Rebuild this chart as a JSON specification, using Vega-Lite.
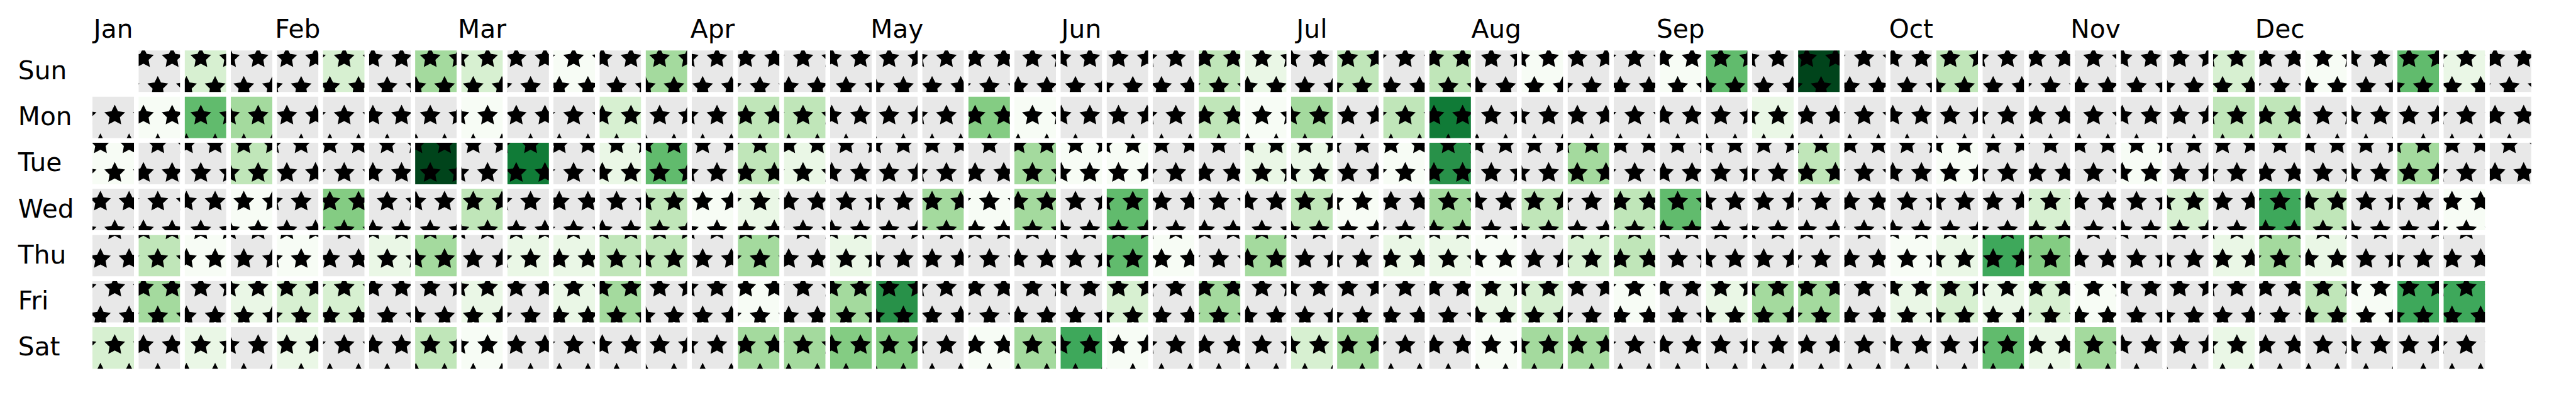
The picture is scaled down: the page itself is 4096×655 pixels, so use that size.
{
  "$schema": "https://vega.github.io/schema/vega-lite/v6.json",
  "width": 3885,
  "height": 513,
  "autosize": {"type": "none"},
  "padding": {"left": 143.4, "top": 76.7, "right": 0, "bottom": 0},
  "background": "white",
  "config": {"view": {"stroke": null}, "axis": {"grid": false}, "font": "DejaVu Sans"},
  "datasets": {
    "weeks": [
      {"w":0,"Mon":null,"Tue":0,"Wed":null,"Thu":null,"Fri":null,"Sat":2},
      {"w":1,"Sun":null,"Mon":0,"Tue":null,"Wed":null,"Thu":3,"Fri":4,"Sat":null},
      {"w":2,"Sun":2,"Mon":6,"Tue":null,"Wed":null,"Thu":0,"Fri":null,"Sat":1},
      {"w":3,"Sun":null,"Mon":4,"Tue":3,"Wed":0,"Thu":null,"Fri":1,"Sat":null},
      {"w":4,"Sun":null,"Mon":null,"Tue":null,"Wed":null,"Thu":0,"Fri":2,"Sat":1},
      {"w":5,"Sun":2,"Mon":null,"Tue":null,"Wed":5,"Thu":null,"Fri":2,"Sat":null},
      {"w":6,"Sun":null,"Mon":null,"Tue":null,"Wed":null,"Thu":1,"Fri":null,"Sat":null},
      {"w":7,"Sun":4,"Mon":null,"Tue":11,"Wed":null,"Thu":4,"Fri":null,"Sat":3},
      {"w":8,"Sun":2,"Mon":0,"Tue":null,"Wed":3,"Thu":null,"Fri":1,"Sat":0},
      {"w":9,"Sun":null,"Mon":null,"Tue":9,"Wed":null,"Thu":1,"Fri":null,"Sat":null},
      {"w":10,"Sun":0,"Mon":null,"Tue":null,"Wed":null,"Thu":1,"Fri":1,"Sat":null},
      {"w":11,"Sun":null,"Mon":2,"Tue":1,"Wed":null,"Thu":3,"Fri":4,"Sat":null},
      {"w":12,"Sun":4,"Mon":null,"Tue":6,"Wed":3,"Thu":3,"Fri":null,"Sat":null},
      {"w":13,"Sun":null,"Mon":null,"Tue":null,"Wed":0,"Thu":null,"Fri":null,"Sat":null},
      {"w":14,"Sun":null,"Mon":3,"Tue":3,"Wed":1,"Thu":4,"Fri":0,"Sat":4},
      {"w":15,"Sun":null,"Mon":3,"Tue":1,"Wed":null,"Thu":null,"Fri":null,"Sat":4},
      {"w":16,"Sun":null,"Mon":null,"Tue":null,"Wed":null,"Thu":1,"Fri":4,"Sat":5},
      {"w":17,"Sun":null,"Mon":null,"Tue":null,"Wed":null,"Thu":null,"Fri":8,"Sat":5},
      {"w":18,"Sun":null,"Mon":null,"Tue":null,"Wed":4,"Thu":null,"Fri":null,"Sat":null},
      {"w":19,"Sun":null,"Mon":5,"Tue":null,"Wed":0,"Thu":null,"Fri":null,"Sat":0},
      {"w":20,"Sun":null,"Mon":0,"Tue":4,"Wed":4,"Thu":null,"Fri":null,"Sat":4},
      {"w":21,"Sun":null,"Mon":null,"Tue":0,"Wed":null,"Thu":null,"Fri":null,"Sat":7},
      {"w":22,"Sun":null,"Mon":null,"Tue":0,"Wed":6,"Thu":6,"Fri":2,"Sat":0},
      {"w":23,"Sun":null,"Mon":null,"Tue":null,"Wed":null,"Thu":0,"Fri":null,"Sat":null},
      {"w":24,"Sun":3,"Mon":3,"Tue":null,"Wed":null,"Thu":null,"Fri":4,"Sat":null},
      {"w":25,"Sun":1,"Mon":0,"Tue":1,"Wed":null,"Thu":4,"Fri":null,"Sat":null},
      {"w":26,"Sun":null,"Mon":4,"Tue":1,"Wed":3,"Thu":null,"Fri":null,"Sat":2},
      {"w":27,"Sun":3,"Mon":null,"Tue":null,"Wed":0,"Thu":null,"Fri":null,"Sat":4},
      {"w":28,"Sun":null,"Mon":3,"Tue":0,"Wed":null,"Thu":1,"Fri":null,"Sat":null},
      {"w":29,"Sun":3,"Mon":9,"Tue":8,"Wed":4,"Thu":1,"Fri":null,"Sat":null},
      {"w":30,"Sun":null,"Mon":null,"Tue":null,"Wed":null,"Thu":0,"Fri":1,"Sat":0},
      {"w":31,"Sun":0,"Mon":null,"Tue":null,"Wed":3,"Thu":null,"Fri":2,"Sat":4},
      {"w":32,"Sun":null,"Mon":null,"Tue":4,"Wed":null,"Thu":2,"Fri":null,"Sat":4},
      {"w":33,"Sun":null,"Mon":null,"Tue":null,"Wed":3,"Thu":3,"Fri":0,"Sat":null},
      {"w":34,"Sun":0,"Mon":null,"Tue":null,"Wed":6,"Thu":null,"Fri":null,"Sat":null},
      {"w":35,"Sun":6,"Mon":null,"Tue":null,"Wed":null,"Thu":null,"Fri":1,"Sat":null},
      {"w":36,"Sun":null,"Mon":1,"Tue":null,"Wed":null,"Thu":null,"Fri":4,"Sat":null},
      {"w":37,"Sun":11,"Mon":null,"Tue":3,"Wed":null,"Thu":null,"Fri":4,"Sat":null},
      {"w":38,"Sun":null,"Mon":null,"Tue":null,"Wed":null,"Thu":null,"Fri":null,"Sat":null},
      {"w":39,"Sun":null,"Mon":null,"Tue":null,"Wed":null,"Thu":0,"Fri":1,"Sat":null},
      {"w":40,"Sun":3,"Mon":null,"Tue":0,"Wed":null,"Thu":1,"Fri":2,"Sat":null},
      {"w":41,"Sun":null,"Mon":null,"Tue":null,"Wed":null,"Thu":7,"Fri":1,"Sat":6},
      {"w":42,"Sun":null,"Mon":null,"Tue":null,"Wed":2,"Thu":5,"Fri":2,"Sat":1},
      {"w":43,"Sun":null,"Mon":null,"Tue":null,"Wed":null,"Thu":null,"Fri":0,"Sat":4},
      {"w":44,"Sun":null,"Mon":null,"Tue":0,"Wed":null,"Thu":null,"Fri":null,"Sat":null},
      {"w":45,"Sun":null,"Mon":null,"Tue":null,"Wed":2,"Thu":null,"Fri":null,"Sat":null},
      {"w":46,"Sun":2,"Mon":3,"Tue":null,"Wed":null,"Thu":1,"Fri":null,"Sat":1},
      {"w":47,"Sun":null,"Mon":3,"Tue":null,"Wed":7,"Thu":4,"Fri":null,"Sat":null},
      {"w":48,"Sun":0,"Mon":null,"Tue":null,"Wed":3,"Thu":1,"Fri":3,"Sat":null},
      {"w":49,"Sun":null,"Mon":null,"Tue":null,"Wed":null,"Thu":null,"Fri":0,"Sat":null},
      {"w":50,"Sun":6,"Mon":null,"Tue":4,"Wed":null,"Thu":null,"Fri":7,"Sat":null},
      {"w":51,"Sun":1,"Mon":null,"Tue":null,"Wed":0,"Thu":null,"Fri":7,"Sat":null},
      {"w":52,"Sun":null,"Mon":null,"Tue":null}
    ],
    "stars": [
      {"j":[2,4,6,8,10,12],"sx":[3,4,5,6,7,8,9,10,11,12,13,14,15,16,17,18,19,20,21,22,23,24,25,26,27,28,29,30,31,32,33,34,35,36,37,38,39,40,41,42,43,44,45,46,47,48,49,50,51,52,53,54,55,56,57,58,59,60,61,62,63,64,65,66,67,68,69,70,71,72,73,74,75,76,77,78,79,80,81,82,83,84,85,86,87,88]},
      {"j":[3,5,7,9,11,13],"sx":[3.5,4.5,5.5,6.5,7.5,8.5,9.5,10.5,11.5,12.5,13.5,14.5,15.5,16.5,17.5,18.5,19.5,20.5,21.5,22.5,23.5,24.5,25.5,26.5,27.5,28.5,29.5,30.5,31.5,32.5,33.5,34.5,35.5,36.5,37.5,38.5,39.5,40.5,41.5,42.5,43.5,44.5,45.5,46.5,47.5,48.5,49.5,50.5,51.5,52.5,53.5,54.5,55.5,56.5,57.5,58.5,59.5,60.5,61.5,62.5,63.5,64.5,65.5,66.5,67.5,68.5,69.5,70.5,71.5,72.5,73.5,74.5,75.5,76.5,77.5,78.5,79.5,80.5,81.5,82.5,83.5,84.5,85.5,86.5,87.5,88.5]}
    ]
  },
  "resolve": {"scale": {"x": "independent", "y": "independent", "color": "independent", "fill": "independent"}, "axis": {"x": "independent", "y": "independent"}},
  "layer": [
    {
      "data": {"name": "weeks"},
      "transform": [
        {"fold": ["Sun","Mon","Tue","Wed","Thu","Fri","Sat"], "as": ["day","v"]},
        {"filter": "isDefined(datum.v)"}
      ],
      "mark": {"type": "rect", "color": "#e8e8e8"},
      "encoding": {
        "x": {"field": "w", "type": "ordinal",
          "scale": {"domain": [0,1,2,3,4,5,6,7,8,9,10,11,12,13,14,15,16,17,18,19,20,21,22,23,24,25,26,27,28,29,30,31,32,33,34,35,36,37,38,39,40,41,42,43,44,45,46,47,48,49,50,51,52], "paddingInner": 0, "paddingOuter": 0},
          "axis": {"orient": "top", "title": null, "domain": false, "ticks": false, "tickSize": 0, "labelPadding": 17.4, "labelBaseline": "alphabetic", "labelAngle": 0, "labelAlign": "center",
            "values": [0,4,8,13,17,21,26,30,34,39,43,47],
            "labelExpr": "['Jan','Feb','Mar','Apr','May','Jun','Jul','Aug','Sep','Oct','Nov','Dec'][indexof([0,4,8,13,17,21,26,30,34,39,43,47], datum.value)]",
            "labelFont": "DejaVu Sans", "labelFontSize": 40.7, "labelColor": "black", "labelOverlap": false, "labelBound": false, "labelLimit": 0, "labelFlush": false}
        },
        "y": {"field": "day", "type": "ordinal",
          "scale": {"domain": ["Sun","Mon","Tue","Wed","Thu","Fri","Sat"], "paddingInner": 0, "paddingOuter": 0},
          "axis": {"orient": "left", "title": null, "domain": false, "ticks": false, "tickSize": 0, "labelPadding": 115.1, "labelAlign": "left", "labelBaseline": "alphabetic", "labelOffset": 12.4,
            "labelFont": "DejaVu Sans", "labelFontSize": 40.7, "labelColor": "black", "labelOverlap": false, "labelBound": false, "labelLimit": 0}
        }
      }
    },
    {
      "data": {"name": "weeks"},
      "transform": [
        {"fold": ["Sun","Mon","Tue","Wed","Thu","Fri","Sat"], "as": ["day","v"]},
        {"filter": "isValid(datum.v)"}
      ],
      "mark": {"type": "rect"},
      "encoding": {
        "x": {"field": "w", "type": "ordinal",
          "scale": {"domain": [0,1,2,3,4,5,6,7,8,9,10,11,12,13,14,15,16,17,18,19,20,21,22,23,24,25,26,27,28,29,30,31,32,33,34,35,36,37,38,39,40,41,42,43,44,45,46,47,48,49,50,51,52], "paddingInner": 0, "paddingOuter": 0},
          "axis": null},
        "y": {"field": "day", "type": "ordinal",
          "scale": {"domain": ["Sun","Mon","Tue","Wed","Thu","Fri","Sat"], "paddingInner": 0, "paddingOuter": 0},
          "axis": null},
        "color": {"field": "v", "type": "quantitative", "legend": null,
          "scale": {"domain": [0,1.375,2.75,4.125,5.5,6.875,8.25,9.625,11],
            "range": ["#f7fcf5","#e5f5e0","#c7e9c0","#a1d99b","#74c476","#41ab5d","#238b45","#006d2c","#00441b"],
            "interpolate": "rgb"}}
      }
    },
    {
      "data": {"name": "stars"},
      "transform": [
        {"flatten": ["j"]},
        {"flatten": ["sx"]}
      ],
      "mark": {"type": "point", "shape": "M0,-1L0.2939,-0.4045L0.9511,-0.309L0.4755,0.1545L0.5878,0.809L0,0.5L-0.5878,0.809L-0.4755,0.1545L-0.9511,-0.309L-0.2939,-0.4045Z",
        "filled": true, "fill": "black", "stroke": "black", "strokeWidth": 1.9, "strokeJoin": "miter", "strokeMiterLimit": 10, "size": 928, "opacity": 1, "clip": true},
      "encoding": {
        "x": {"field": "sx", "type": "quantitative", "scale": {"domain": [3.1441, 88.341], "nice": false, "zero": false}, "axis": null},
        "y": {"field": "j", "type": "quantitative", "scale": {"domain": [1.652, 12.902], "nice": false, "zero": false, "reverse": true}, "axis": null}
      }
    },
    {
      "data": {"name": "weeks"},
      "transform": [
        {"fold": ["Sun","Mon","Tue","Wed","Thu","Fri","Sat"], "as": ["day","v"]}
      ],
      "mark": {"type": "rect", "stroke": "white", "strokeWidth": 7.1},
      "encoding": {
        "x": {"field": "w", "type": "ordinal",
          "scale": {"domain": [0,1,2,3,4,5,6,7,8,9,10,11,12,13,14,15,16,17,18,19,20,21,22,23,24,25,26,27,28,29,30,31,32,33,34,35,36,37,38,39,40,41,42,43,44,45,46,47,48,49,50,51,52], "paddingInner": 0, "paddingOuter": 0},
          "axis": null},
        "y": {"field": "day", "type": "ordinal",
          "scale": {"domain": ["Sun","Mon","Tue","Wed","Thu","Fri","Sat"], "paddingInner": 0, "paddingOuter": 0},
          "axis": null},
        "fill": {"condition": {"test": "!isDefined(datum.v)", "value": "white"}, "value": "transparent"}
      }
    }
  ]
}
